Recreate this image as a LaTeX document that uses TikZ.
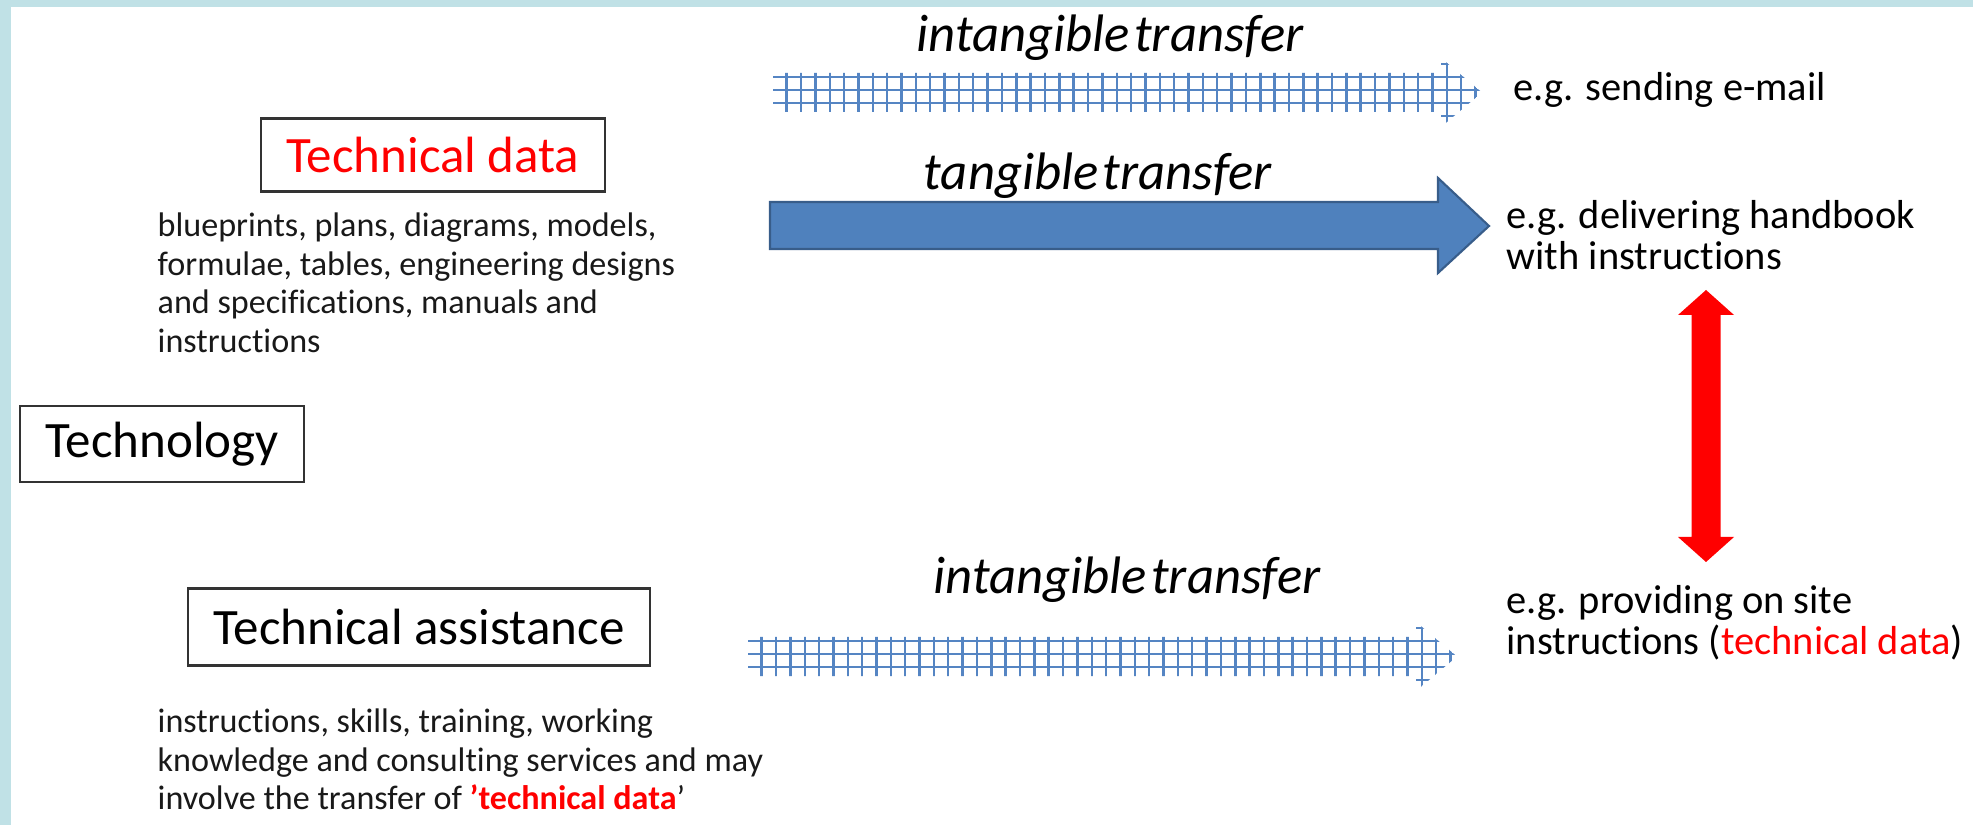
\documentclass[tikz,border=0pt]{standalone}
\usepackage{fontspec}
\setmainfont[Ligatures={TeX,NoCommon}]{Carlito}
\usetikzlibrary{positioning}
\usetikzlibrary{calc}
\definecolor{framecol}{HTML}{C0E1E6}
\definecolor{arrowblue}{HTML}{4F81BD}
\definecolor{arrowedge}{HTML}{385D8A}
\definecolor{gridblue}{HTML}{5585C3}
\tikzset{
  titlebox/.style={draw=black!80, line width=0.6pt, inner sep=0pt, font=\fontsize{14.5}{17}\selectfont},
  note/.style={align=left, anchor=north west, inner sep=0pt, text=black!90, font=\fontsize{9.7}{11}\selectfont},
  example/.style={align=left, anchor=north west, inner sep=0pt, font=\fontsize{11.5}{11.7}\selectfont},
  transfer/.style={inner sep=0pt, font=\fontsize{15}{18}\selectfont\itshape},
  gridline/.style={draw=gridblue, line width=0.7pt},
}

\begin{document}
\begin{tikzpicture}[x=0.01cm, y=-0.01cm]
\fill[framecol] (0,0) rectangle (1973,825);
\fill[white] (11,7) rectangle (1973,825);
% boxes on the left
\node[titlebox, text=red, minimum width=3.43cm, minimum height=0.73cm] (techdata) at (433,155) {Technical data};
\node[note] (datanote) at (157,212) {blueprints, plans, diagrams, models,\\formulae, tables, engineering designs\\and specifications, manuals and\\instructions};
\node[titlebox, minimum width=2.83cm, minimum height=0.76cm] (technology) at (162,444) {Technology};
\node[titlebox, minimum width=4.61cm, minimum height=0.77cm] (techassist) at (419,627) {Technical assistance};
\node[note] (assistnote) at (157,708) {instructions, skills, training, working\\knowledge and consulting services and may\\involve the transfer of \textcolor{red}{\textbf{’technical data}}’};
% examples on the right
\node[example, anchor=west] (email) at (1513,90) {e.g. sending e-mail};
\node[example] (handbook) at (1506,200) {e.g. delivering handbook\\with instructions};
\node[example] (onsite) at (1506,585) {e.g. providing on site\\instructions (\textcolor{red}{technical data})};
% labels over the arrows
\node[transfer] (intangtop) at (1110,38) {intangible\hspace{0.08em}transfer};
\node[transfer] (tangible) at (1098,176) {tangible\hspace{0.08em}transfer};
\node[transfer] (intangbot) at (1127,580) {intangible\hspace{0.08em}transfer};
% tangible transfer arrow
\draw[fill=arrowblue, draw=arrowedge, line width=0.6pt] (770,202) -- (1438,202) -- (1438,178) -- (1489,226) -- (1438,273) -- (1438,249) -- (770,249) -- cycle;
% intangible transfer arrows
\foreach \dx/\dy in {0/0,-25/564}
{
\begin{scope}[shift={(\dx,\dy)}]
\clip (773,73) -- (1441,73) -- (1441,58) -- (1482,92.5) -- (1441,127) -- (1441,112) -- (773,112) -- cycle;
\foreach \k in {0,...,48}
\draw[gridline] (786.7+\k*14.35,50) -- ++(0,90);
\foreach \r in {64,77,90,103,116}
\draw[gridline] (765,\r) -- (1495,\r);
\end{scope}
}
% double arrow between the examples
\fill[red] (1706,290) -- (1734,315) -- (1720.5,315) -- (1720.5,537) -- (1734,537) -- (1706,562) -- (1678,537) -- (1691.5,537) -- (1691.5,315) -- (1678,315) -- cycle;
\end{tikzpicture}
\end{document}
